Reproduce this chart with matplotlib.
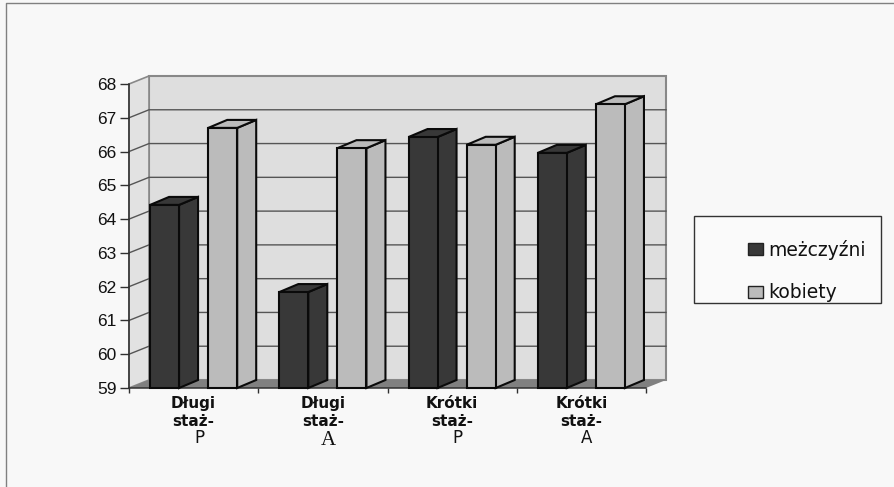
import matplotlib
matplotlib.use("Agg")
import matplotlib.pyplot as plt
from matplotlib.patches import Polygon, Rectangle
from matplotlib.lines import Line2D

group_labels = ["Długi\nstaż-", "Długi\nstaż-", "Krótki\nstaż-", "Krótki\nstaż-"]
group_suffix = ["P", "A", "P", "A"]
suffix_family = ["DejaVu Sans", "Liberation Serif", "DejaVu Sans", "DejaVu Sans"]
men = [64.42, 61.84, 66.43, 65.96]
women = [66.7, 66.1, 66.2, 67.4]
yticks = list(range(59, 69))

W, H = 894, 487
BG = "#f8f8f8"
DARK = "#383838"
LIGHT = "#bbbbbb"
WALL = "#dedede"

fig = plt.figure(figsize=(W / 100, H / 100), dpi=100, facecolor=BG)
L, R, T, B = 129, 646, 84, 388
ax = fig.add_axes([L / W, 1 - B / H, (R - L) / W, (B - T) / H])
ax.set_xlim(0, 4)
ax.set_ylim(59, 68)
ax.patch.set_visible(False)
for s in ("top", "right"):
    ax.spines[s].set_visible(False)
for s in ("left", "bottom"):
    ax.spines[s].set_color("#303030")
    ax.spines[s].set_linewidth(1.1)
    ax.spines[s].set_zorder(2.6)

px = 4 / (R - L)
py = 9 / (B - T)
dx, dy = 20 * px, 8 * py      # wall depth
bdx, bdy = 19 * px, 8 * py    # bar depth
bw = 29 * px
y0, y1 = 59, 68


def poly(pts, fc, ec="none", lw=0, z=1):
    ax.add_patch(Polygon(pts, closed=True, facecolor=fc, edgecolor=ec, linewidth=lw,
                         zorder=z, clip_on=False, joinstyle="miter"))


# walls and floor
poly([(dx, y0 + dy), (4 + dx, y0 + dy), (4 + dx, y1 + dy), (dx, y1 + dy)], WALL, "#888888", 1.5, 1)
poly([(0, y0), (dx, y0 + dy), (dx, y1 + dy), (0, y1)], "#e2e2e2", "#888888", 1.2, 1)
for v in yticks[1:-1]:
    ax.plot([0, dx, 4 + dx], [v, v + dy, v + dy], color="#555555", lw=1.0, zorder=1.5,
            clip_on=False, solid_joinstyle="miter")
poly([(0, y0), (4, y0), (4 + dx, y0 + dy), (dx, y0 + dy)], "#808080", "none", 0, 2)


def bar3d(x, v, color):
    ax.bar(x, v - y0, width=bw, bottom=y0, color=color, edgecolor="#0a0a0a", linewidth=1.5,
           zorder=3, clip_on=False)
    l, r = x - bw / 2, x + bw / 2
    poly([(r, y0), (r + bdx, y0 + bdy), (r + bdx, v + bdy), (r, v)], color, "#0a0a0a", 1.5, 2.9)
    poly([(l, v), (r, v), (r + bdx, v + bdy), (l + bdx, v + bdy)], color, "#0a0a0a", 1.5, 2.9)


for i in range(4):
    bar3d(i + 0.275, men[i], DARK)
    bar3d(i + 0.725, women[i], LIGHT)

# ticks
ax.set_yticks(yticks)
ax.tick_params(axis="y", length=9 * 0.72, width=1.0, color="#303030", pad=2.5, labelsize=12.5,
               labelcolor="#111111")
for t in ax.get_yticklabels():
    t.set_family("Liberation Sans")
ax.set_xticks(range(5))
ax.set_xticklabels([])
ax.tick_params(axis="x", which="major", length=5 * 0.72, width=1.0, color="#303030")
ax.set_xticks([i + 0.5 for i in range(4)], minor=True)
ax.set_xticklabels(group_labels, minor=True, family="DejaVu Sans", fontsize=11, color="#111111",
                   linespacing=1.22, fontweight="bold")
ax.tick_params(axis="x", which="minor", length=0, pad=6)

for i, (s, fam) in enumerate(zip(group_suffix, suffix_family)):
    serif = fam.endswith("Serif")
    ax.text(i + 0.5 + 5.5 * px, 59 - (53 if serif else 50) * py, s, family=fam, ha="center",
            va="center", fontsize=15 if serif else 12, color="#111111", clip_on=False)

# outer frame
fig.add_artist(Line2D([6 / W, 6 / W, 1], [0, 1 - 3 / H, 1 - 3 / H], color="#808080", lw=1.0))

# legend box and legend
fig.add_artist(Rectangle((693.5 / W, 1 - 303 / H), 187.5 / W, 87.5 / H, transform=fig.transFigure,
                         facecolor="#fafafa", edgecolor="#333333", linewidth=1.0))
bars = [Rectangle((0, 0), 1, 1, facecolor=DARK, edgecolor="#222222", lw=1.0),
        Rectangle((0, 0), 1, 1, facecolor=LIGHT, edgecolor="#222222", lw=1.0)]
leg = fig.legend(bars, ["meżczyźni", "kobiety"], loc="upper left", frameon=False,
                 bbox_to_anchor=(747.5 / W, 1 - 240 / H), borderpad=0, borderaxespad=0,
                 handlelength=0.8, handleheight=0.6, handletextpad=0.28, labelspacing=1.25,
                 prop={"family": "DejaVu Sans", "size": 13.5})
for t in leg.get_texts():
    t.set_color("#111111")

fig.savefig("out.png", dpi=100, facecolor=fig.get_facecolor())
